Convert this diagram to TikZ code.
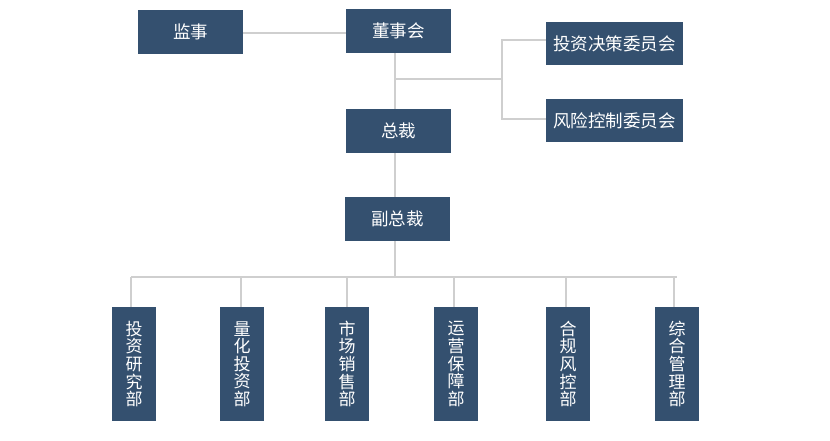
\documentclass[tikz,border=0pt]{standalone}
\usepackage{fontspec}
\usetikzlibrary{backgrounds}
\newfontfamily\cjk{Noto Sans CJK SC}
\definecolor{boxblue}{HTML}{34506F}
\definecolor{linegrey}{HTML}{CFCFCF}
\begin{document}
\begin{tikzpicture}[x=1pt,y=-1pt,
  box/.style={fill=boxblue,text=white,inner sep=0pt,font=\cjk\fontsize{17.5}{19}\selectfont},
  hbox/.style={box,minimum width=105pt,minimum height=44pt},
  wbox/.style={box,minimum width=137pt,minimum height=43pt},
  vbox/.style={box,minimum width=44pt,minimum height=114pt,align=center,font=\cjk\fontsize{17}{17.6}\selectfont},
  conn/.style={draw=linegrey,line width=2pt}]
\path[use as bounding box] (0,0) rectangle (830,440);
% nodes
\path
  node[hbox] (js) at (190.5,31.5) {监事}
  node[hbox] (dsh) at (398.5,31) {董事会}
  node[wbox] (tz) at (614.5,43.5) {投资决策委员会}
  node[wbox] (fx) at (614.5,120.5) {风险控制委员会}
  node[hbox] (zc) at (398.5,131) {总裁}
  node[hbox] (fzc) at (397.5,219) {副总裁}
  node[vbox] (b1) at (134,364) {投\\资\\研\\究\\部}
  node[vbox] (b2) at (242,364) {量\\化\\投\\资\\部}
  node[vbox] (b3) at (347,364) {市\\场\\销\\售\\部}
  node[vbox] (b4) at (456,364) {运\\营\\保\\障\\部}
  node[vbox] (b5) at (568,364) {合\\规\\风\\控\\部}
  node[vbox] (b6) at (677,364) {综\\合\\管\\理\\部};
% joints
\coordinate (top) at (395,53);
\coordinate (j1) at (395,79);
\coordinate (j2) at (501.7,79);
\coordinate (busL) at (131,277);
\coordinate (busR) at (677,277);
\coordinate (busM) at (395,277);
\begin{pgfonlayer}{background}
\fill[white] (0,0) rectangle (830,440);
\draw[conn] (js.east |- 0,32.5) -- (dsh.west |- 0,32.5);
\draw[conn] (top) -- (busM);
\draw[conn] (j1) -- (j2);
\draw[conn] (j2) |- ([yshift=3.5pt]tz.west);
\draw[conn] (j2) |- ([yshift=1.5pt]fx.west);
\draw[conn] (busL) -- (busR);
\draw[conn] ([xshift=-3pt]b1.north |- busL) -- ([xshift=-3pt]b1.north);
\draw[conn] ([xshift=-1pt]b2.north |- busL) -- ([xshift=-1pt]b2.north);
\draw[conn] (b3.north |- busL) -- (b3.north);
\draw[conn] ([xshift=-2pt]b4.north |- busL) -- ([xshift=-2pt]b4.north);
\draw[conn] ([xshift=-2pt]b5.north |- busL) -- ([xshift=-2pt]b5.north);
\draw[conn] ([xshift=-3pt]b6.north |- busR) -- ([xshift=-3pt]b6.north);
\end{pgfonlayer}
\end{tikzpicture}
\end{document}
